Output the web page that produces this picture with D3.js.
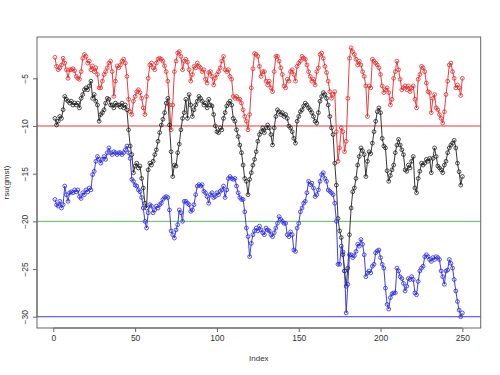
<!DOCTYPE html>
<html><head><meta charset="utf-8">
<script src="https://cdn.jsdelivr.net/npm/d3@7/dist/d3.min.js"></script>
<style>body{margin:0;background:#fff}svg{display:block}</style>
</head><body>
<svg id="chart" width="500" height="375"></svg>
<script>
const redSeries = [
-2.8,-3.75,-4.1,-3.9,-3.6,-2.9,-3.4,-4.1,-5.0,-4.1,
-4.1,-4.0,-4.2,-4.8,-5.0,-5.1,-4.3,-2.9,-2.5,-2.7,
-3.4,-3.2,-4.1,-3.7,-4.3,-3.9,-4.6,-6.0,-6.0,-5.3,
-4.6,-4.3,-3.9,-3.4,-3.2,-4.3,-6.9,-5.3,-3.7,-3.9,
-3.6,-3.2,-3.0,-3.4,-4.8,-7.2,-8.5,-8.8,-7.4,-6.9,
-6.4,-6.2,-6.5,-7.1,-8.1,-8.8,-6.9,-5.0,-3.6,-3.4,
-3.9,-4.1,-3.4,-3.0,-2.9,-3.0,-3.2,-3.7,-4.3,-5.3,
-7.8,-10.4,-7.8,-4.3,-3.2,-2.35,-2.2,-2.7,-4.1,-3.2,
-3.0,-3.3,-4.1,-5.3,-4.6,-3.75,-3.9,-3.4,-3.75,-3.9,
-4.3,-4.1,-5.1,-5.5,-4.4,-4.3,-4.8,-5.7,-5.0,-4.6,
-4.3,-3.9,-3.2,-2.7,-4.1,-4.3,-4.1,-4.8,-5.1,-6.9,
-7.1,-6.9,-7.2,-7.2,-7.6,-8.3,-9.0,-9.5,-10.4,-8.8,
-6.0,-4.0,-2.4,-2.5,-2.7,-3.75,-4.8,-4.3,-4.3,-5.3,
-5.7,-5.3,-6.0,-6.4,-4.3,-2.7,-2.7,-3.2,-3.9,-4.6,
-5.8,-6.0,-5.1,-5.3,-4.3,-4.1,-4.6,-5.3,-3.75,-3.4,
-3.2,-2.7,-2.9,-3.0,-3.6,-4.3,-4.8,-5.3,-5.1,-5.7,
-4.3,-3.9,-2.5,-2.35,-2.9,-3.75,-4.4,-5.3,-6.4,-7.1,
-6.7,-6.4,-10.6,-13.7,-12.3,-10.2,-10.6,-12.7,-11.6,-7.1,
-2.9,-1.8,-2.2,-2.5,-3.0,-3.6,-3.2,-3.6,-4.3,-4.8,
-5.8,-9.0,-5.8,-6.0,-3.0,-3.2,-3.4,-3.6,-3.9,-4.6,
-5.8,-6.5,-6.2,-6.0,-6.5,-7.8,-7.2,-5.0,-4.3,-3.2,
-4.1,-5.1,-6.2,-6.0,-5.8,-6.2,-5.8,-6.4,-6.0,-5.8,
-7.2,-8.1,-5.1,-4.6,-3.75,-3.9,-4.3,-5.5,-6.4,-6.5,
-8.6,-7.1,-6.7,-8.1,-8.3,-8.8,-9.2,-9.7,-8.5,-6.7,
-5.3,-3.6,-3.4,-4.3,-5.0,-6.0,-5.7,-6.0,-6.8,-5.0
];
const blackSeries = [
-9.2,-9.9,-9.5,-9.0,-9.2,-8.3,-6.9,-7.2,-7.4,-7.6,
-7.4,-7.8,-7.6,-7.8,-7.6,-8.1,-7.1,-6.7,-6.2,-6.0,
-6.2,-5.8,-5.3,-7.1,-6.7,-7.4,-7.8,-9.5,-8.8,-8.6,
-8.3,-7.6,-7.1,-7.2,-7.8,-7.8,-8.1,-7.6,-7.8,-7.8,
-8.0,-7.6,-8.1,-7.8,-8.3,-10.4,-12.1,-13.0,-14.9,-14.2,
-13.9,-14.4,-14.2,-15.5,-16.5,-18.1,-18.6,-14.6,-13.9,-14.1,
-13.7,-13.0,-12.5,-11.6,-10.7,-9.9,-9.3,-8.6,-7.6,-7.1,
-9.9,-12.7,-15.3,-14.1,-14.2,-12.8,-11.9,-10.4,-9.2,-8.6,
-7.2,-9.2,-6.7,-7.8,-9.0,-8.3,-7.8,-7.4,-6.9,-7.1,
-7.4,-7.8,-7.6,-8.1,-7.2,-7.8,-7.9,-8.8,-10.0,-10.6,
-10.7,-10.2,-10.4,-9.2,-8.6,-7.9,-7.6,-7.4,-7.8,-9.2,
-9.5,-10.4,-11.1,-12.0,-12.8,-14.1,-15.5,-15.8,-17.2,-15.6,
-14.9,-14.1,-13.5,-12.7,-11.6,-10.9,-10.6,-10.2,-10.7,-10.2,
-9.9,-10.2,-10.9,-12.0,-10.2,-9.0,-8.3,-8.5,-8.8,-8.6,
-9.0,-8.8,-9.2,-10.0,-10.2,-10.6,-11.3,-11.8,-9.5,-9.0,
-8.5,-8.3,-7.9,-7.6,-7.8,-8.1,-8.3,-8.6,-9.0,-9.5,
-9.7,-8.6,-7.4,-6.9,-6.5,-6.7,-7.1,-7.8,-9.0,-10.2,
-10.9,-13.9,-16.2,-19.7,-21.0,-21.7,-23.5,-25.2,-26.8,-24.9,
-21.4,-18.6,-16.9,-16.5,-15.5,-14.1,-13.2,-12.3,-12.6,-13.0,
-15.3,-13.7,-12.7,-12.9,-11.8,-10.6,-9.5,-8.5,-8.1,-8.6,
-11.3,-12.1,-12.3,-14.7,-15.8,-15.2,-14.6,-14.1,-12.8,-12.0,
-11.4,-12.0,-12.5,-13.0,-14.6,-14.75,-14.1,-14.4,-13.7,-13.2,
-16.5,-17.0,-15.5,-14.75,-13.9,-14.1,-13.9,-13.5,-13.7,-13.4,
-14.9,-13.4,-12.3,-13.2,-14.2,-14.4,-14.6,-14.9,-14.1,-13.7,
-12.8,-12.3,-12.0,-11.8,-11.5,-12.3,-13.9,-14.8,-16.2,-15.3
];
const blueSeries = [
-17.7,-18.25,-18.4,-17.9,-18.6,-18.25,-16.3,-17.2,-17.9,-17.0,
-16.9,-17.0,-16.7,-16.9,-16.7,-17.4,-17.6,-17.0,-17.2,-16.7,
-16.9,-16.5,-16.7,-15.1,-14.75,-13.7,-13.2,-13.5,-13.9,-13.5,
-13.2,-13.5,-12.8,-12.3,-12.8,-13.0,-12.7,-12.8,-13.0,-12.8,
-12.8,-13.0,-12.8,-12.5,-12.1,-12.8,-13.4,-15.6,-15.8,-16.2,
-16.3,-16.7,-16.9,-17.5,-18.6,-20.0,-20.7,-19.1,-18.25,-18.4,
-19.1,-18.8,-18.4,-18.6,-18.25,-18.1,-17.7,-17.5,-17.4,-17.5,
-18.8,-21.0,-21.4,-21.75,-20.9,-20.35,-18.8,-19.1,-20.0,-17.9,
-17.9,-18.1,-18.25,-18.95,-18.8,-18.25,-17.2,-16.3,-16.15,-16.3,
-16.15,-16.85,-17.0,-17.4,-18.1,-17.2,-17.0,-17.5,-17.4,-17.0,
-17.2,-16.85,-16.7,-16.3,-17.5,-16.7,-15.5,-15.3,-15.5,-15.6,
-15.5,-16.3,-17.0,-17.5,-17.7,-17.7,-19.0,-20.7,-21.6,-23.7,
-22.3,-21.4,-21.0,-20.7,-21.0,-20.5,-20.9,-21.2,-21.4,-20.7,
-20.9,-21.0,-21.4,-21.6,-21.2,-20.7,-20.2,-19.5,-19.8,-20.0,
-20.2,-20.2,-21.4,-21.6,-21.1,-21.4,-23.0,-23.15,-20.7,-20.2,
-19.0,-18.6,-18.1,-17.9,-17.0,-15.8,-16.15,-16.0,-16.5,-17.4,
-17.2,-16.7,-15.8,-15.1,-14.9,-15.5,-15.8,-16.7,-16.85,-17.0,
-17.2,-18.1,-20.0,-24.5,-24.5,-22.6,-23.2,-25.2,-29.6,-26.6,
-23.5,-23.5,-23.8,-23.6,-23.15,-22.4,-22.6,-21.9,-22.4,-23.5,
-25.8,-25.4,-25.2,-25.4,-24.7,-24.5,-23.3,-23.1,-23.0,-23.8,
-24.5,-24.9,-27.0,-28.7,-29.2,-28.0,-27.6,-27.5,-27.5,-24.9,
-25.2,-25.8,-26.0,-26.5,-27.3,-26.8,-26.0,-26.1,-25.8,-26.1,
-27.5,-27.7,-26.3,-25.2,-24.9,-24.7,-23.7,-23.5,-23.7,-24.0,
-24.2,-23.8,-24.0,-23.7,-23.8,-24.0,-25.2,-25.8,-26.6,-25.2,
-25.1,-24.0,-24.4,-24.9,-26.1,-27.3,-28.4,-29.3,-30.0,-29.6
];
const refLines = [-10, -20, -30];
const refColors = ["#e83a3a", "#55c055", "#3a3ae8"];
const xTicks = [0, 50, 100, 150, 200, 250];
const yTicks = [-5, -10, -15, -20, -25, -30];
const xLabel = "Index";
const yLabel = "rsu(gmst)";

(function () {
const svg = d3.select("#chart");
const pl = 37, pr = 480.7, pt = 37, pb = 328;
const x = d3.scaleLinear().domain([-9.96, 261.2]).range([pl, pr]);
const y = d3.scaleLinear().domain([-31.18, -0.67]).range([pb, pt]);
const font = "Liberation Sans, Arial, sans-serif";

svg.append("g").selectAll("line").data(refLines).join("line")
  .attr("x1", pl).attr("x2", pr)
  .attr("y1", d => y(d)).attr("y2", d => y(d))
  .attr("stroke", (d, i) => refColors[i]).attr("stroke-width", 1);

const series = [
  {vals: redSeries, color: "#e82828"},
  {vals: blackSeries, color: "#202020"},
  {vals: blueSeries, color: "#2828e8"}
];
const line = d3.line().x((d, i) => x(i + 1)).y(d => y(d));
series.forEach(s => {
  const g = svg.append("g");
  g.append("path").datum(s.vals).attr("d", line)
    .attr("fill", "none").attr("stroke", s.color).attr("stroke-width", 0.9);
  g.selectAll("circle").data(s.vals).join("circle")
    .attr("cx", (d, i) => x(i + 1)).attr("cy", d => y(d)).attr("r", 1.9)
    .attr("fill", "none").attr("stroke", s.color).attr("stroke-width", 0.8);
});

svg.append("rect").attr("x", pl).attr("y", pt)
  .attr("width", pr - pl).attr("height", pb - pt)
  .attr("fill", "none").attr("stroke", "#666").attr("stroke-width", 1);

const xAxis = d3.axisBottom(x).tickValues(xTicks).tickSize(4).tickPadding(3).tickSizeOuter(0);
const gx = svg.append("g").attr("transform", `translate(0,${pb})`).call(xAxis);
gx.select(".domain").attr("d", `M${x(xTicks[0])},0H${x(xTicks[xTicks.length-1])}`).attr("stroke", "#666");
gx.selectAll(".tick line").attr("stroke", "#666");
gx.selectAll("text").attr("font-family", font)
  .attr("font-size", "8.5px").attr("fill", "#333");

const yAxis = d3.axisLeft(y).tickValues(yTicks).tickSize(4).tickPadding(3).tickSizeOuter(0);
const gy = svg.append("g").attr("transform", `translate(${pl},0)`).call(yAxis);
gy.select(".domain").attr("d", `M0,${y(yTicks[0])}V${y(yTicks[yTicks.length-1])}`).attr("stroke", "#666");
gy.selectAll(".tick line").attr("stroke", "#666");
gy.selectAll("text")
  .attr("font-family", font)
  .attr("font-size", "8.5px").attr("fill", "#333")
  .attr("text-anchor", "middle").attr("x", null).attr("dy", null)
  .attr("transform", "translate(-9,0) rotate(-90)");

svg.append("text").attr("x", (pl + pr) / 2).attr("y", 361)
  .attr("text-anchor", "middle").attr("font-family", font)
  .attr("font-size", "8px").attr("fill", "#333").text(xLabel);
svg.append("text").attr("transform", `translate(9,${(pt + pb) / 2}) rotate(-90)`)
  .attr("text-anchor", "middle").attr("font-family", font)
  .attr("font-size", "8px").attr("fill", "#333").text(yLabel);
})();
</script>
</body></html>
